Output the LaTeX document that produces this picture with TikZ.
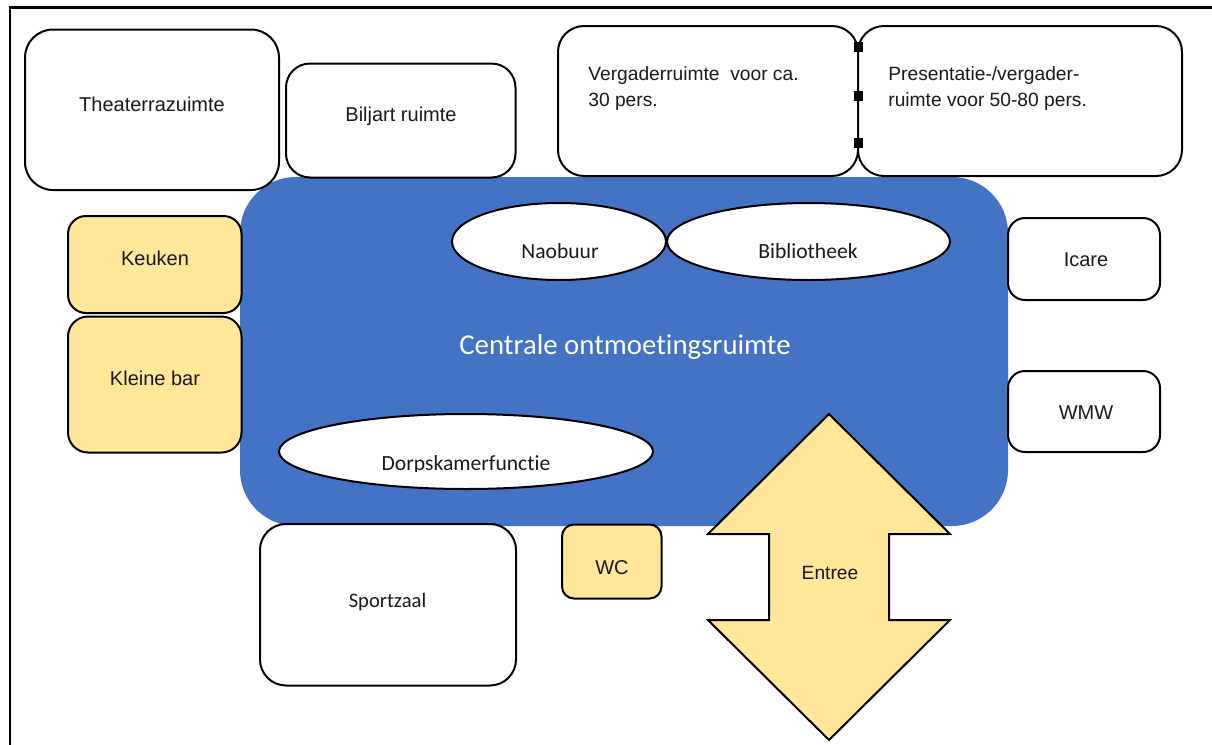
\documentclass[tikz,border=0pt]{standalone}
\usepackage{fontspec}
\setmainfont{Liberation Sans}
\newfontfamily\carl[Ligatures=NoCommon]{Carlito}
\usetikzlibrary{fit,shapes.geometric}
\definecolor{cblue}{HTML}{4472C4}
\definecolor{cyel}{HTML}{FFE699}
\definecolor{txt}{HTML}{1A1A1A}
\tikzset{
  room/.style={draw=black, line width=1pt, fill=white, rounded corners=#1, inner sep=0pt},
  room/.default=12pt,
  yroom/.style={room=#1, fill=cyel},
  yroom/.default=10pt,
  oval/.style={ellipse, draw=black, line width=1pt, fill=white, inner sep=0pt},
  lbl/.style={anchor=base, inner sep=0pt, text=txt, font=\fontsize{10pt}{12pt}\selectfont},
  lbll/.style={anchor=base west, inner sep=0pt, text=txt, font=\fontsize{9.6pt}{12pt}\selectfont},
  clbl/.style={anchor=base, inner sep=0pt, text=txt, font=\carl\fontsize{10.8pt}{13pt}\selectfont},
  sq/.style={rectangle, fill=black, minimum width=4.5pt, minimum height=5pt, inner sep=0pt},
}
\begin{document}
\begin{tikzpicture}[x=0.5pt, y=-0.5pt]
\useasboundingbox (0,0) rectangle (1212,745);
\fill[white] (0,0) rectangle (1212,745);
% frame
\draw[line width=1.1pt] (10,745) -- (10,7.5) -- (1212,7.5);

% central area
\node[fit={(240,177) (1008,526)}, inner sep=0pt, fill=cblue, rounded corners=28pt] (central) {};
\node[anchor=base, inner sep=0pt, text=white, font=\carl\fontsize{14.4pt}{17pt}\selectfont] (tcentral) at (625,354) {Centrale ontmoetingsruimte};
\fill[fill={rgb,255:red,100;green,115;blue,150}] (501,296) circle (1.2);

% ellipses
\node[oval, minimum width=107pt, minimum height=38.5pt] (naobuur) at (559,241.5) {};
\node[oval, minimum width=141.5pt, minimum height=38.5pt] (biblio) at (808.5,241.5) {};
\node[oval, minimum width=187pt, minimum height=37.5pt] (dorp) at (466,451.5) {};
\node[clbl] (tnaobuur) at (560,258) {Naobuur};
\node[clbl] (tbiblio) at (808,258) {Bibliotheek};
\begin{scope}
  \clip (280,430) rectangle (652,471);
  \node[clbl] (tdorp) at (466,470) {Dorpskamerfunctie};
\end{scope}

% top rooms
\node[room=14pt, fit={(25,29.5) (279,190)}] (theater) {};
\node[lbl] (ttheater) at (152,111) {Theaterrazuimte};
\node[room=12pt, fit={(286,63.5) (515.5,177.5)}] (biljart) {};
\node[lbl] (tbiljart) at (401,121) {Biljart ruimte};
\node[room=13pt, fit={(558,26) (858,176)}] (verg) {};
\node[room=13pt, fit={(858,26) (1182,176)}] (pres) {};
\node[lbll] (tverg1) at (588,80) {Vergaderruimte\ \ voor ca.};
\node[lbll] (tverg2) at (588,106) {30 pers.};
\node[lbll] (tpres1) at (888,80) {Presentatie-/vergader-};
\node[lbll] (tpres2) at (888,106) {ruimte voor 50-80 pers.};
\node[sq] (s1) at (858,47) {};
\node[sq] (s2) at (858,96) {};
\node[sq] (s3) at (858,143) {};

% left rooms
\node[yroom=9pt, fit={(68,216) (241.5,313)}] (keuken) {};
\node[lbl] (tkeuken) at (155,265) {Keuken};
\node[yroom=10pt, fit={(68,316.5) (241.5,452.5)}] (bar) {};
\node[lbl] (tbar) at (155,385) {Kleine bar};

% right rooms
\node[room=8.5pt, fit={(1008,218) (1160,300)}] (icare) {};
\node[lbl] (ticare) at (1086,266) {Icare};
\node[room=8.5pt, fit={(1008,371) (1160,452)}] (wmw) {};
\node[lbl] (twmw) at (1086,419) {WMW};

% bottom rooms
\node[room=13pt, fit={(260,524) (516,685.5)}] (sport) {};
\node[anchor=base, inner sep=0pt, text=txt, font=\carl\fontsize{10.3pt}{12pt}\selectfont] (tsport) at (387.5,607) {Sportzaal};
\node[yroom=6pt, fit={(562,524.5) (661.5,598.5)}] (wc) {};
\node[lbl] (twc) at (612,574) {WC};

% entrance arrow
\draw[line width=1pt, fill=cyel, line join=miter] (829,414) -- (950,534) -- (889,534) -- (889,620) -- (950,620) -- (829,740) -- (708,620) -- (769,620) -- (769,534) -- (708,534) -- cycle;
\node[lbl, font=\fontsize{9.6pt}{12pt}\selectfont] (tentree) at (830,579) {Entree};
\end{tikzpicture}
\end{document}
